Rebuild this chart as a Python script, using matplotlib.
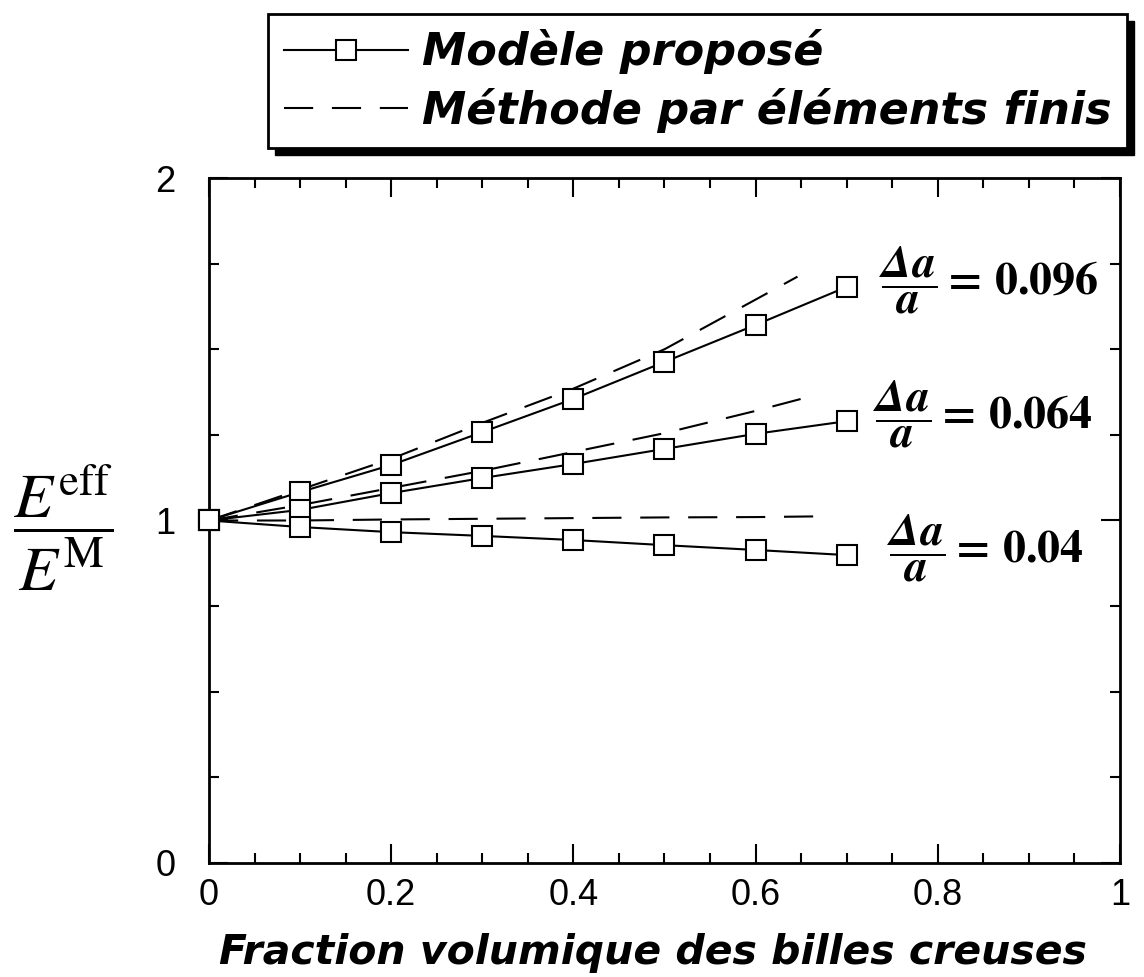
import numpy as np
import matplotlib.pyplot as plt
from matplotlib.ticker import MultipleLocator
from matplotlib.patches import Rectangle

plt.rcParams['mathtext.fontset'] = 'stix'

# volume fraction of hollow beads
frac = [0.0, 0.1, 0.2, 0.3, 0.4, 0.5, 0.6, 0.7]

# proposed model, one series per da/a
model_096 = [1.0, 1.083, 1.162, 1.258, 1.355, 1.463, 1.571, 1.682]
model_064 = [1.0, 1.031, 1.080, 1.124, 1.165, 1.209, 1.253, 1.290]
model_040 = [1.0, 0.981, 0.966, 0.955, 0.943, 0.928, 0.914, 0.899]

# finite element results (dashed)
fem_frac_096 = [0.0, 0.1, 0.2, 0.3, 0.4, 0.5, 0.6, 0.646]
fem_096 = [1.0, 1.09, 1.18, 1.285, 1.385, 1.50, 1.645, 1.712]
fem_frac_064 = [0.0, 0.1, 0.2, 0.3, 0.4, 0.5, 0.6, 0.657]
fem_064 = [1.0, 1.045, 1.095, 1.145, 1.20, 1.255, 1.32, 1.36]
fem_frac_040 = [0.0, 0.1, 0.2, 0.3, 0.4, 0.5, 0.6, 0.668]
fem_040 = [1.0, 1.0, 1.003, 1.005, 1.007, 1.009, 1.01, 1.012]

ratio_labels = ['0.096', '0.064', '0.04']
xtick_labels = ['0', '0.2', '0.4', '0.6', '0.8', '1']
ytick_labels = ['0', '1', '2']
legend_labels = ['Modèle proposé', 'Méthode par éléments finis']

script_font = dict(family='DejaVu Sans', weight='bold', style='oblique')

fig = plt.figure(figsize=(11.44, 9.77), dpi=100)
ax = fig.add_axes([0.1827, 0.1167, 0.7963, 0.7011])

dash = (0, (14, 9))
fem_lines = []
for fx, fy in [(fem_frac_096, fem_096), (fem_frac_064, fem_064), (fem_frac_040, fem_040)]:
    l, = ax.plot(fx, fy, color='k', lw=1.5, ls=dash, zorder=2)
    fem_lines.append(l)

model_lines = []
offsets = [23, 19, 29]
for vals, lab, off in zip([model_096, model_064, model_040], ratio_labels, offsets):
    l, = ax.plot(frac, vals, color='k', lw=1.5, marker='s', ms=14,
                 mfc='white', mec='k', mew=1.5, clip_on=False, zorder=3)
    model_lines.append(l)
    ax.annotate(r'$\dfrac{\mathbfit{\Delta a}}{\mathbfit{a}}\mathbf{=\,' + lab + '}$',
                xy=(frac[-1], vals[-1]), xytext=(off, 5), textcoords='offset points',
                ha='left', va='center', fontsize=33)

ax.set_xlim(0, 1)
ax.set_ylim(0, 2)
ax.xaxis.set_minor_locator(MultipleLocator(0.05))
ax.yaxis.set_minor_locator(MultipleLocator(0.25))
ax.set_xticks(np.arange(0, 1.01, 0.2))
ax.set_xticklabels(xtick_labels)
ax.set_yticks([0, 1, 2])
ax.set_yticklabels(ytick_labels)
ax.tick_params(which='both', direction='in', top=True, right=True, width=1.5,
               labelsize=26, labelfontfamily='Liberation Sans')
ax.tick_params(which='major', length=14)
ax.tick_params(which='minor', length=7)
ax.tick_params(axis='x', pad=11)
ax.tick_params(axis='y', pad=24)
for s in ax.spines.values():
    s.set_linewidth(2)

ax.set_xlabel('Fraction volumique des billes creuses', fontsize=29.5, **script_font)
ax.xaxis.set_label_coords(0.487, -0.102)
ax.set_ylabel(r'$\dfrac{E^{\mathrm{eff}}}{E^{\mathrm{M}}}$', fontsize=46, rotation=0,
              ha='center', va='center')
ax.yaxis.set_label_coords(-0.16, 0.49)

leg = fig.legend([model_lines[0], fem_lines[0]], legend_labels, loc='center',
                 bbox_to_anchor=(0.6097, 0.917), frameon=True, fancybox=False,
                 edgecolor='k', framealpha=1, prop=dict(size=32, **script_font),
                 handlelength=2.8, handletextpad=0.3, borderpad=0.35, labelspacing=0.3)
leg.get_frame().set_linewidth(2)

fig.canvas.draw()
bb = leg.get_window_extent().transformed(fig.transFigure.inverted())
dx, dy = 7 / 1144, 7 / 977
fig.add_artist(Rectangle((bb.x0 + dx, bb.y0 - dy), bb.width, bb.height,
                         transform=fig.transFigure, fc='k', ec='k', zorder=leg.get_zorder() - 0.5))

fig.savefig('out.png', dpi=100)
